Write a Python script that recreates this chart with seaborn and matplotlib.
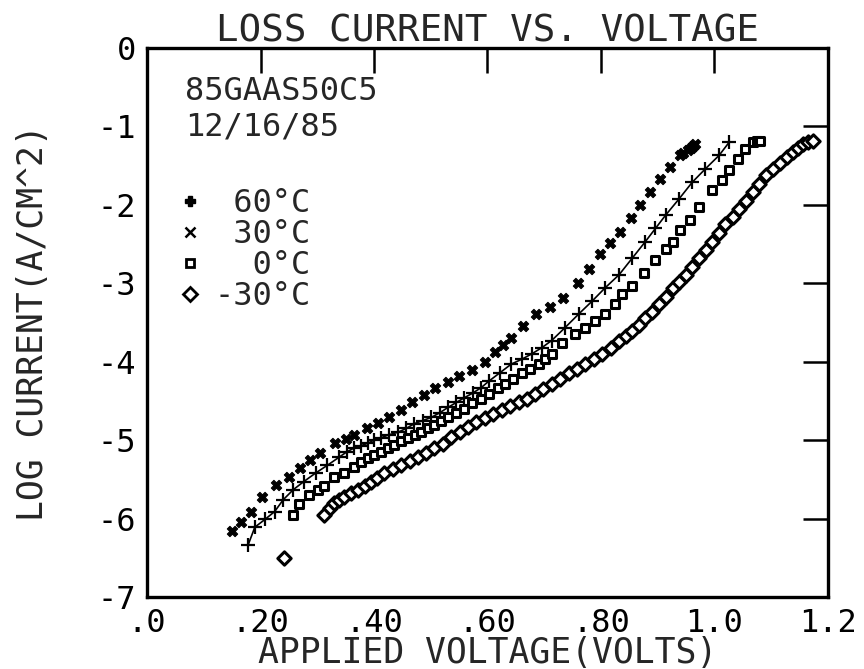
import matplotlib
matplotlib.use("Agg")
import matplotlib.pyplot as plt
from matplotlib.lines import Line2D
import seaborn as sns
import pandas as pd

# ---- data ----
v_60 = [0.150, 0.166, 0.184, 0.202, 0.228, 0.251, 0.269, 0.287, 0.304, 0.331, 0.350, 0.365,
        0.388, 0.407, 0.427, 0.447, 0.467, 0.488, 0.508, 0.530, 0.550, 0.572, 0.596, 0.614,
        0.628, 0.641, 0.663, 0.685, 0.710, 0.733, 0.759, 0.779, 0.798, 0.816, 0.834, 0.852,
        0.869, 0.887, 0.904, 0.922, 0.940, 0.945, 0.953, 0.958, 0.962, 0.966]
i_60 = [-6.16, -6.04, -5.91, -5.73, -5.57, -5.47, -5.35, -5.25, -5.16, -5.04, -4.98, -4.94,
        -4.84, -4.78, -4.71, -4.62, -4.52, -4.43, -4.34, -4.26, -4.18, -4.10, -4.00, -3.88,
        -3.79, -3.70, -3.55, -3.39, -3.30, -3.19, -3.00, -2.82, -2.63, -2.49, -2.34, -2.17,
        -2.00, -1.84, -1.67, -1.52, -1.37, -1.34, -1.30, -1.27, -1.25, -1.23]

v_30 = [0.178, 0.190, 0.208, 0.225, 0.240, 0.258, 0.276, 0.297, 0.318, 0.338, 0.352, 0.365,
        0.377, 0.389, 0.400, 0.412, 0.427, 0.442, 0.457, 0.471, 0.486, 0.501, 0.516, 0.531,
        0.545, 0.559, 0.574, 0.589, 0.602, 0.622, 0.642, 0.660, 0.678, 0.696, 0.713, 0.736,
        0.761, 0.784, 0.807, 0.832, 0.855, 0.878, 0.896, 0.914, 0.938, 0.961, 0.984, 1.008, 1.026]
i_30 = [-6.34, -6.11, -6.01, -5.91, -5.76, -5.63, -5.53, -5.42, -5.32, -5.22, -5.15, -5.10,
        -5.07, -5.04, -5.00, -4.97, -4.93, -4.90, -4.85, -4.79, -4.75, -4.71, -4.65, -4.58,
        -4.52, -4.46, -4.40, -4.33, -4.25, -4.14, -4.03, -3.97, -3.90, -3.82, -3.73, -3.57,
        -3.39, -3.23, -3.06, -2.89, -2.68, -2.47, -2.30, -2.13, -1.92, -1.71, -1.54, -1.37, -1.20]

v_0 = [0.258, 0.267, 0.285, 0.301, 0.312, 0.330, 0.347, 0.365, 0.377, 0.389, 0.400, 0.412,
       0.424, 0.435, 0.448, 0.460, 0.472, 0.483, 0.495, 0.506, 0.518, 0.531, 0.545, 0.559,
       0.572, 0.589, 0.602, 0.619, 0.630, 0.645, 0.660, 0.675, 0.690, 0.702, 0.713, 0.731,
       0.754, 0.772, 0.789, 0.807, 0.825, 0.837, 0.855, 0.876, 0.896, 0.914, 0.926, 0.940,
       0.957, 0.973, 0.996, 1.014, 1.026, 1.041, 1.053, 1.067, 1.075, 1.081]
i_0 = [-5.95, -5.82, -5.70, -5.63, -5.59, -5.47, -5.42, -5.34, -5.28, -5.23, -5.19, -5.15,
       -5.10, -5.06, -5.01, -4.97, -4.93, -4.90, -4.85, -4.81, -4.76, -4.71, -4.66, -4.60,
       -4.53, -4.48, -4.41, -4.33, -4.28, -4.22, -4.15, -4.09, -4.03, -3.96, -3.90, -3.76,
       -3.65, -3.57, -3.48, -3.39, -3.27, -3.14, -3.04, -2.87, -2.70, -2.56, -2.47, -2.32,
       -2.19, -2.03, -1.81, -1.68, -1.56, -1.42, -1.29, -1.20, -1.19, -1.18]

v_m30 = [0.242, 0.312, 0.322, 0.330, 0.338, 0.347, 0.360, 0.372, 0.384, 0.395, 0.406, 0.418,
         0.433, 0.448, 0.463, 0.478, 0.492, 0.506, 0.521, 0.536, 0.551, 0.566, 0.580, 0.595,
         0.610, 0.625, 0.640, 0.655, 0.669, 0.683, 0.698, 0.713, 0.728, 0.743, 0.758, 0.772,
         0.787, 0.802, 0.817, 0.832, 0.844, 0.855, 0.867, 0.878, 0.890, 0.903, 0.915, 0.926,
         0.938, 0.949, 0.961, 0.973, 0.985, 0.996, 1.008, 1.019, 1.032, 1.044, 1.056, 1.067,
         1.079, 1.090, 1.103, 1.115, 1.127, 1.138, 1.147, 1.156, 1.165, 1.173]
i_m30 = [-6.50, -5.95, -5.87, -5.80, -5.76, -5.73, -5.68, -5.63, -5.58, -5.53, -5.48, -5.42,
         -5.37, -5.32, -5.27, -5.22, -5.16, -5.10, -5.05, -4.96, -4.89, -4.83, -4.77, -4.72,
         -4.67, -4.62, -4.57, -4.52, -4.47, -4.41, -4.35, -4.28, -4.22, -4.15, -4.09, -4.03,
         -3.97, -3.90, -3.82, -3.73, -3.67, -3.61, -3.53, -3.44, -3.36, -3.27, -3.17, -3.06,
         -2.98, -2.89, -2.79, -2.68, -2.58, -2.47, -2.36, -2.25, -2.15, -2.05, -1.95, -1.84,
         -1.73, -1.62, -1.54, -1.46, -1.39, -1.33, -1.28, -1.23, -1.20, -1.18]

legend_labels = [" 60°C", " 30°C", "  0°C", "-30°C"]
x_ticks = [0.0, 0.2, 0.4, 0.6, 0.8, 1.0, 1.2]
x_ticklabels = [".0", ".20", ".40", ".60", ".80", "1.0", "1.2"]
y_ticks = [0, -1, -2, -3, -4, -5, -6, -7]
y_ticklabels = ["0", "-1", "-2", "-3", "-4", "-5", "-6", "-7"]
title = "LOSS CURRENT VS. VOLTAGE"
xlabel = "APPLIED VOLTAGE(VOLTS)"
ylabel = "LOG CURRENT(A/CM^2)"
sample = "85GAAS50C5"
date = "12/16/85"

# ---- style ----
sns.set_style("white")
plt.rcParams["font.family"] = ["DejaVu Sans Mono", "DejaVu Sans"]

fig = plt.figure(figsize=(8.64, 6.69), dpi=100)
ax = fig.add_axes([147 / 864, 1 - 597 / 669, (828 - 147) / 864, (597 - 48) / 669])

df60 = pd.DataFrame({"v": v_60, "i": i_60})
df30 = pd.DataFrame({"v": v_30, "i": i_30})
df0 = pd.DataFrame({"v": v_0, "i": i_0})
dfm30 = pd.DataFrame({"v": v_m30, "i": i_m30})

sns.scatterplot(data=df60, x="v", y="i", marker="X", s=55, color="black",
                edgecolor="black", linewidth=0.8, ax=ax, legend=False)
sns.lineplot(data=df30, x="v", y="i", color="black", linewidth=1.2, sort=False,
             estimator=None, ax=ax, legend=False)
sns.scatterplot(data=df30, x="v", y="i", marker="+", s=115, color="black",
                linewidth=1.6, ax=ax, legend=False)
sns.scatterplot(data=df0, x="v", y="i", marker="s", s=36, facecolor="white",
                edgecolor="black", linewidth=2.2, ax=ax, legend=False)
sns.scatterplot(data=dfm30, x="v", y="i", marker="D", s=46, facecolor="white",
                edgecolor="black", linewidth=2.2, ax=ax, legend=False)

ax.set_xlim(0, 1.2)
ax.set_ylim(-7, 0)
ax.set_xticks(x_ticks)
ax.set_xticklabels(x_ticklabels)
ax.set_yticks(y_ticks)
ax.set_yticklabels(y_ticklabels)
ax.tick_params(axis="both", which="both", direction="in", length=18, width=1.8,
               top=True, right=True, labelsize=23, pad=8, colors="black")
for sp in ax.spines.values():
    sp.set_visible(True)
    sp.set_linewidth(2.4)
    sp.set_color("black")

ax.set_title(title, fontsize=27, pad=5)
ax.set_xlabel(xlabel, fontsize=25, labelpad=-2)
ax.set_ylabel(ylabel, fontsize=25, labelpad=34)

ax.text(0.056, 0.92, sample, transform=ax.transAxes, fontsize=23, va="center", ha="left")
ax.text(0.056, 0.857, date, transform=ax.transAxes, fontsize=23, va="center", ha="left")

handles = [
    Line2D([], [], linestyle="none", marker="P", markersize=7, color="black"),
    Line2D([], [], linestyle="none", marker="x", markersize=7, markeredgewidth=1.8, color="black"),
    Line2D([], [], linestyle="none", marker="s", markersize=6, markerfacecolor="white",
           markeredgewidth=2.0, color="black"),
    Line2D([], [], linestyle="none", marker="D", markersize=7, markerfacecolor="white",
           markeredgewidth=2.0, color="black"),
]
ax.legend(handles, legend_labels, loc="upper left", bbox_to_anchor=(0.045, 0.745),
          frameon=False, fontsize=23, handlelength=0.8, handletextpad=0.35,
          labelspacing=0.0, borderpad=0.0, borderaxespad=0.0)

fig.savefig("out.png", dpi=100)
